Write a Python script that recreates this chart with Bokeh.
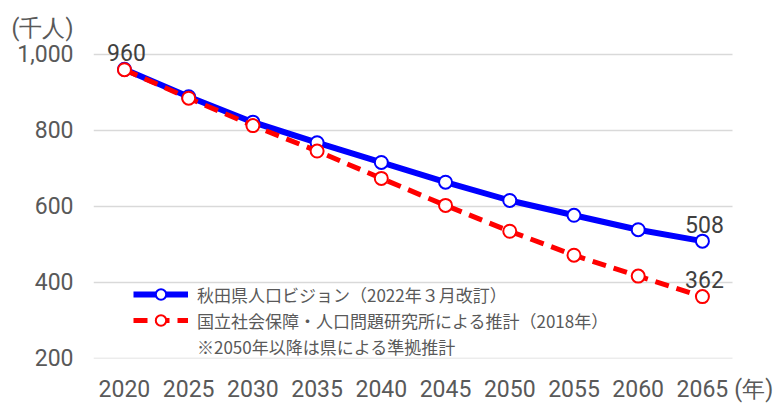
from bokeh.plotting import figure
from bokeh.models import (Legend, LegendItem, FixedTicker, NumeralTickFormatter,
                          ColumnDataSource, Range1d)
from bokeh.core.properties import value
from bokeh.embed import file_html
from bokeh.resources import INLINE

# ---- data ----
years = [2020, 2025, 2030, 2035, 2040, 2045, 2050, 2055, 2060, 2065]
akita_vision = [960, 888, 821, 767, 715, 663, 615, 576, 538, 508]
ipss = [959, 884, 812, 745, 673, 602, 534, 471, 416, 362]
y_ticks = [200, 400, 600, 800, 1000]
name_vision = "秋田県人口ビジョン（2022年３月改訂）"
name_ipss = "国立社会保障・人口問題研究所による推計（2018年）"
note = "※2050年以降は県による準拠推計"
y_unit = "(千人)"
x_unit = "(年)"
# tick slots used only to show the unit captions beside the axes
y_unit_tick = 1068
x_unit_tick = 2069

NUM_FONT = "Roboto"
JP_FONT = "Noto Sans CJK JP"
GRAY = "#595959"
DARK = "#404040"
BLUE = "#0000ff"
RED = "#ff0000"

X0, X1 = 2017.59, 2069.21
X_DATA_END = 2067.34

p = figure(width=777, height=405, output_backend="svg", toolbar_location=None,
           x_range=Range1d(X0, X1), y_range=Range1d(199.2, 1114.8),
           min_border_left=93, min_border_right=21, min_border_top=10, min_border_bottom=44)
p.outline_line_color = None
p.background_fill_color = "white"
p.border_fill_color = "white"

for ax in (p.xaxis[0], p.yaxis[0]):
    ax.axis_line_color = None
    ax.major_tick_line_color = None
    ax.minor_tick_line_color = None
    ax.major_tick_out = 0
    ax.major_tick_in = 0
    ax.minor_tick_out = 0
    ax.major_label_text_font = NUM_FONT
    ax.major_label_text_font_size = "23px"
    ax.major_label_text_color = GRAY

p.xaxis[0].ticker = FixedTicker(ticks=years + [x_unit_tick])
p.xaxis[0].major_label_overrides = {x_unit_tick: x_unit}
p.xaxis[0].major_label_standoff = 17
p.yaxis[0].ticker = FixedTicker(ticks=y_ticks + [y_unit_tick])
p.yaxis[0].formatter = NumeralTickFormatter(format="0,0")
p.yaxis[0].major_label_overrides = {y_unit_tick: y_unit}
p.yaxis[0].major_label_standoff = 20

p.xgrid.visible = False
g = p.ygrid[0]
g.ticker = FixedTicker(ticks=y_ticks)
g.grid_line_color = "#d9d9d9"
g.grid_line_width = 1.5
if "cross_bounds" in g.properties():
    g.cross_bounds = (X0, X_DATA_END)

src = ColumnDataSource(dict(year=years, vision=akita_vision, ipss=ipss))

bl = p.line("year", "vision", source=src, line_color=BLUE, line_width=6)
bs = p.scatter("year", "vision", source=src, marker="circle", size=13,
               fill_color="white", line_color=BLUE, line_width=2)
rl = p.line("year", "ipss", source=src, line_color=RED, line_width=5, line_dash="14 8")
rs = p.scatter("year", "ipss", source=src, marker="circle", size=13,
               fill_color="white", line_color=RED, line_width=2)
nr = p.line(x=[], y=[], line_alpha=0)

lab = ColumnDataSource(dict(
    x=[years[0], years[-1], years[-1]],
    y=[akita_vision[0], akita_vision[-1], ipss[-1]],
    t=[str(akita_vision[0]), str(akita_vision[-1]), str(ipss[-1])],
))
p.text("x", "y", "t", source=lab, text_align="center", text_baseline="alphabetic",
       x_offset=2, y_offset=-17, text_font=value(NUM_FONT), text_font_size="23px",
       text_color=DARK)

legend = Legend(items=[
    LegendItem(label=name_vision, renderers=[bl, bs]),
    LegendItem(label=name_ipss, renderers=[rl, rs]),
    LegendItem(label=note, renderers=[nr]),
], location=(40, -1), glyph_width=55, glyph_height=26, label_height=26,
    label_standoff=9, padding=0, margin=0, spacing=0,
    border_line_alpha=0, background_fill_alpha=0,
    label_text_font=JP_FONT, label_text_font_size="17px", label_text_color=GRAY,
    label_text_baseline="middle")
p.add_layout(legend)

open("out.html", "w").write(file_html(p, INLINE))
